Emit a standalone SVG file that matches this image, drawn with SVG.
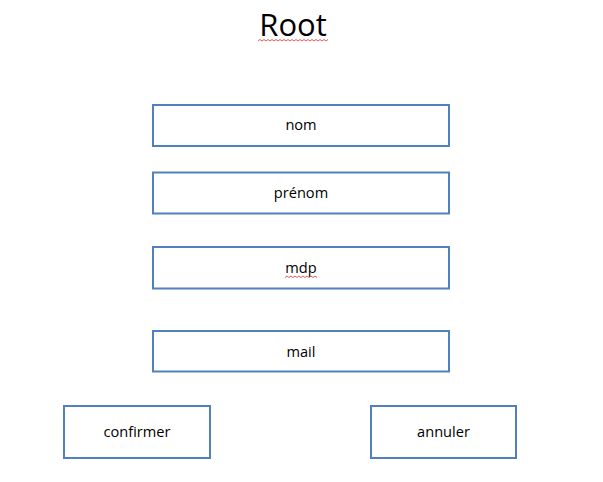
<svg xmlns="http://www.w3.org/2000/svg" width="603" height="482" viewBox="0 0 603 482">
<style>
.box{fill:#fff;stroke:#4F81BD;stroke-width:2}
.lbl{font-family:"Open Sans","Noto Sans",sans-serif;font-size:14.6px;fill:#000;text-anchor:middle}
.title{font-family:"Open Sans","Noto Sans",sans-serif;font-size:31px;fill:#000;text-anchor:middle}
.sq{fill:none;stroke:#E03030;stroke-width:0.8}
</style>
<rect width="603" height="482" fill="#fff"/>
<g id="title">
<text class="title" x="293" y="36">Root</text>
<path class="sq" d="M258 41 l2 -1.5 l2 1.5 l2 -1.5 l2 1.5 l2 -1.5 l2 1.5 l2 -1.5 l2 1.5 l2 -1.5 l2 1.5 l2 -1.5 l2 1.5 l2 -1.5 l2 1.5 l2 -1.5 l2 1.5 l2 -1.5 l2 1.5 l2 -1.5 l2 1.5 l2 -1.5 l2 1.5 l2 -1.5 l2 1.5 l2 -1.5 l2 1.5 l2 -1.5 l2 1.5 l2 -1.5 l2 1.5 l2 -1.5 l2 1.5 l2 -1.5 l2 1.5 l2 -1.5"/>
</g>
<g id="connectors"></g>
<g id="nom"><rect class="box" x="153" y="105" width="296" height="41"/><text class="lbl" x="301" y="130">nom</text></g>
<g id="prenom"><rect class="box" x="153" y="172.5" width="296" height="41"/><text class="lbl" x="301" y="198">prénom</text></g>
<g id="mdp"><rect class="box" x="153" y="247" width="296" height="41.5"/><text class="lbl" x="301" y="273">mdp</text>
<path class="sq" d="M285 277.5 l2 -1.5 l2 1.5 l2 -1.5 l2 1.5 l2 -1.5 l2 1.5 l2 -1.5 l2 1.5 l2 -1.5 l2 1.5 l2 -1.5 l2 1.5 l2 -1.5 l2 1.5 l2 -1.5 l2 1.5"/></g>
<g id="mail"><rect class="box" x="153" y="331" width="296" height="40.5"/><text class="lbl" x="301" y="356.5">mail</text></g>
<g id="confirmer"><rect class="box" x="64" y="406" width="146" height="52"/><text class="lbl" x="137" y="436.5">confirmer</text></g>
<g id="annuler"><rect class="box" x="371" y="406" width="145" height="52"/><text class="lbl" x="443.5" y="436.5">annuler</text></g>
</svg>
